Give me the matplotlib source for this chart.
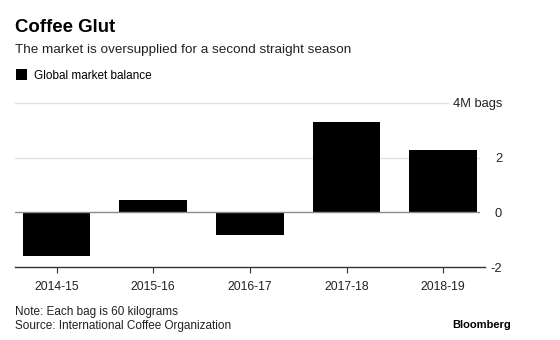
import matplotlib
matplotlib.use("Agg")
import matplotlib.pyplot as plt
import numpy as np

plt.rcParams['font.family'] = ['Liberation Sans', 'DejaVu Sans']

# Global coffee market balance, million 60kg bags
seasons = ['2014-15', '2015-16', '2016-17', '2017-18', '2018-19']
balance = [-1.6, 0.45, -0.82, 3.3, 2.29]
ytick_vals = [-2, 0, 2, 4]
ytick_text = ['-2', '0', '2', '4M bags']

fig = plt.figure(figsize=(5.6, 3.4), dpi=100)
ax = fig.add_axes([15/560, 1 - 267.3/340, (480 - 15)/560, (267.3 - 102.7)/340])

x = np.arange(len(seasons))
ax.bar(x, balance, width=0.7, color='black', zorder=3, label='Global market balance')

ax.set_xlim(-0.43, len(seasons) - 1 + 0.38)
ax.set_ylim(-2, 4)

# gridlines (top one shortened to leave room for the unit label)
for v in ytick_vals:
    if v == -2:
        continue
    if v == 4:
        ax.axhline(v, xmin=0, xmax=(448 - 15)/(480 - 15), color='#e3e3e3', lw=1, zorder=1, clip_on=False)
    elif v == 0:
        ax.axhline(v, color='#8c8c8c', lw=1, zorder=4)
    else:
        ax.axhline(v, color='#e3e3e3', lw=1, zorder=1)

for s in ['top', 'left', 'right']:
    ax.spines[s].set_visible(False)
ax.spines['bottom'].set_color('#333333')
ax.spines['bottom'].set_linewidth(1)
ax.spines['bottom'].set_bounds(-0.43, len(seasons) - 1 + 0.43)

ax.set_xticks(x)
ax.set_xticklabels(seasons, fontsize=8.8, color='#222222')
ax.tick_params(axis='x', length=4, width=0.8, color='#333333', pad=6)

ax.yaxis.tick_right()
ax.set_yticks(ytick_vals)
ax.set_yticklabels(ytick_text, fontsize=9.3, color='#222222')
ax.tick_params(axis='y', length=0, pad=16)
for lab in ax.get_yticklabels():
    lab.set_ha('right')

fig.text(15/560, 1 - 28/340, 'Coffee Glut', fontsize=13.4, fontweight='bold', va='center', ha='left')
fig.text(15/560, 1 - 50/340, 'The market is oversupplied for a second straight season',
         fontsize=9.7, va='center', ha='left', color='#222222')

leg = ax.legend(loc='center left', bbox_to_anchor=(16/560, 1 - 75.5/340), bbox_transform=fig.transFigure,
                frameon=False, fontsize=8.5, handlelength=0.95, handleheight=0.95, handletextpad=0.55,
                borderpad=0, borderaxespad=0)

fig.text(15/560, 1 - 312/340, 'Note: Each bag is 60 kilograms', fontsize=8.5, va='center', ha='left', color='#222222')
fig.text(15/560, 1 - 325.5/340, 'Source: International Coffee Organization', fontsize=8.5, va='center', ha='left', color='#222222')
fig.text(511/560, 1 - 325.5/340, 'Bloomberg', fontsize=8, fontweight='bold', va='center', ha='right')

fig.savefig('out.png', dpi=100)
